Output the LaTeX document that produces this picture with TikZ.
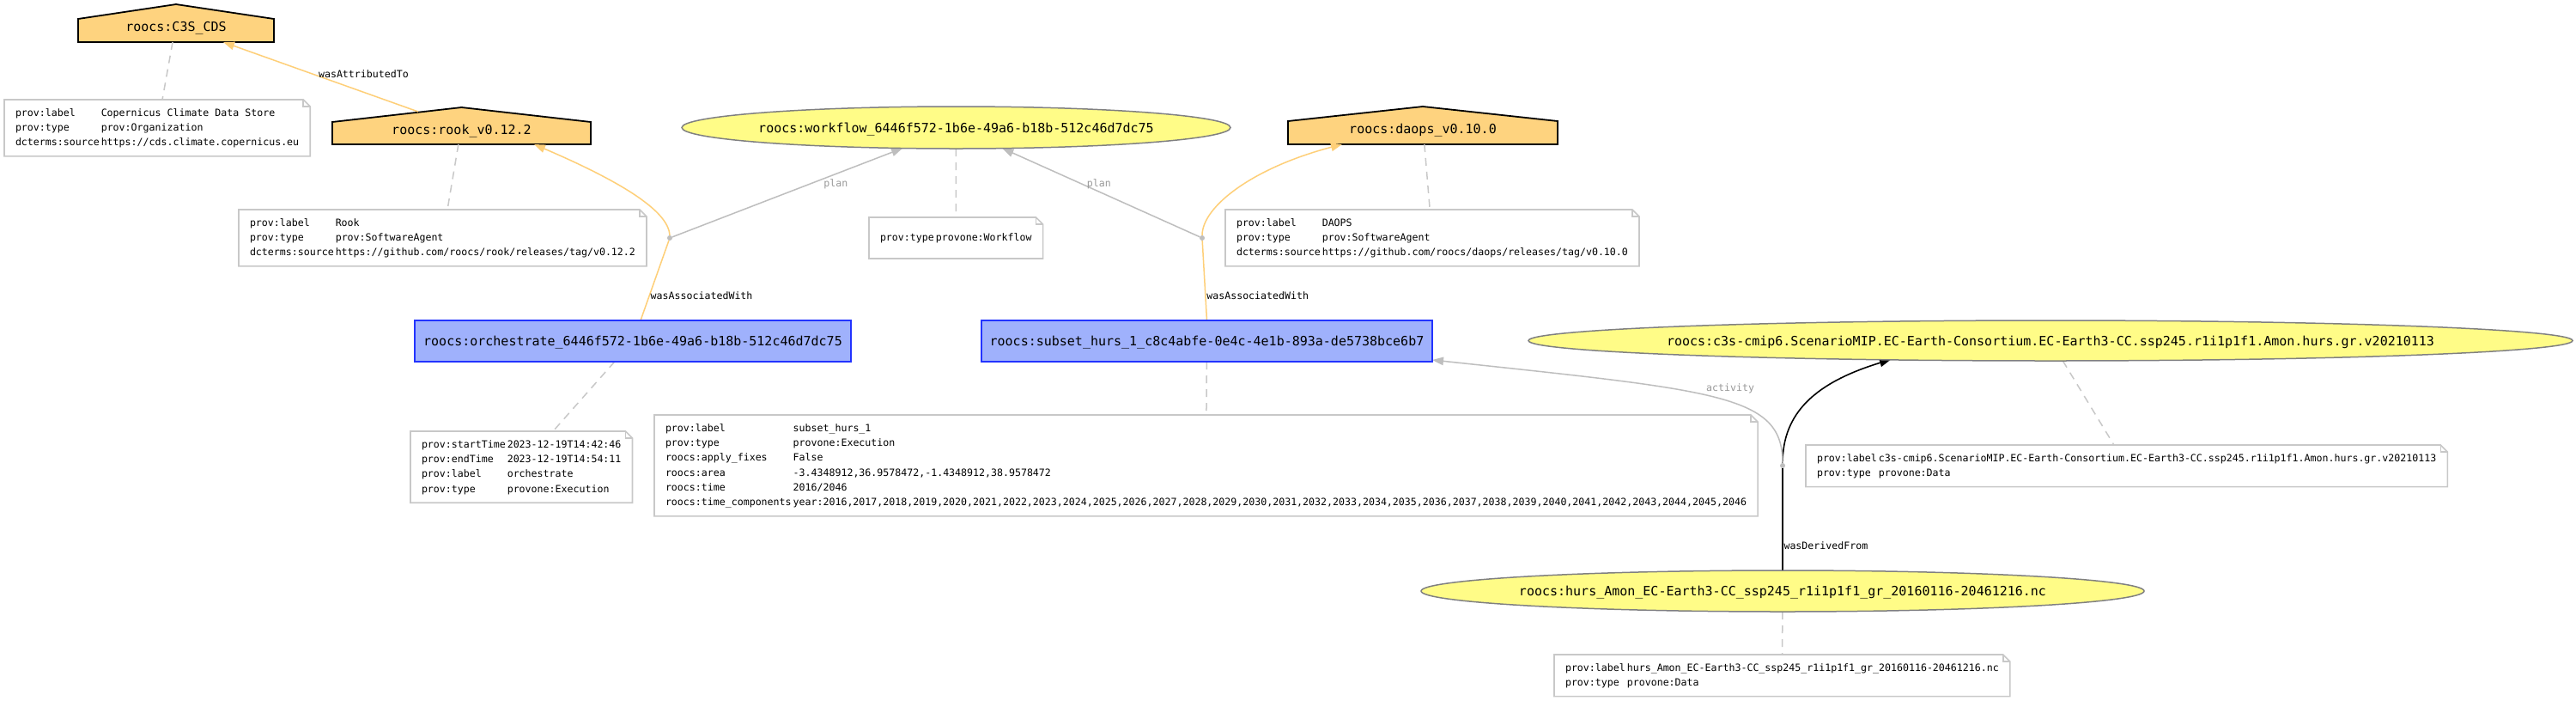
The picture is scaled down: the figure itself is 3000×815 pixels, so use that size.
\documentclass[tikz,border=0pt]{standalone}
\usepackage{fontspec}
\newfontfamily\gvfont{DejaVu Sans Mono}
\usetikzlibrary{arrows.meta,shapes.geometric,backgrounds}
\pgfdeclarelayer{edges}
\pgfsetlayers{background,edges,main}
\definecolor{entfill}{HTML}{FFFC87}
\definecolor{entline}{HTML}{808080}
\definecolor{actfill}{HTML}{9FB1FC}
\definecolor{actline}{HTML}{2233FF}
\definecolor{agfill}{HTML}{FED37F}
\definecolor{agedge}{HTML}{FECF78}
\definecolor{notegray}{HTML}{C8C8C8}
\definecolor{edgegray}{HTML}{BEBEBE}
\definecolor{lblgray}{HTML}{999999}
\newcommand\nodetxt{\gvfont\fontsize{15}{18}\selectfont}
\newcommand\notetxt{\gvfont\fontsize{11.6}{17.3}\selectfont}
\begin{document}
\begin{tikzpicture}[x=1pt,y=-1pt,
  every node/.style={inner sep=0pt, outer sep=0pt},
  entity/.style={ellipse, draw=entline, fill=entfill, line width=1.5pt, font=\nodetxt, text height=11pt, text depth=0pt},
  activity/.style={rectangle, draw=actline, fill=actfill, line width=2pt, font=\nodetxt, text height=11pt, text depth=0pt},
  agent/.style={rectangle, font=\nodetxt, text height=19pt, text depth=0pt},
  agentshape/.style={draw=black, fill=agfill, line width=1.8pt, line join=miter},
  note/.style={rectangle, font=\notetxt, inner xsep=13pt, inner ysep=7pt, minimum height=48pt, anchor=north west},
  noteshape/.style={draw=notegray, fill=white, line width=1.6pt},
  annot/.style={draw=notegray, line width=1.5pt, dash pattern=on 9pt off 7pt},
  arrowend/.style={-{Triangle[length=13pt,width=9.5pt]}},
  assoc/.style={draw=agedge, line width=1.5pt},
  qual/.style={draw=edgegray, line width=1.5pt},
  derived/.style={draw=black, line width=1.6pt},
  lbl/.style={font=\notetxt, inner sep=1.5pt},
  glbl/.style={lbl, text=lblgray},
  bnode/.style={circle, fill=edgegray, minimum size=6pt},
]
\useasboundingbox (0,0) rectangle (3000,815);

% ---------- nodes ----------
\node[agent, minimum width=228pt, minimum height=44pt] (c3scds) at (205,27) {roocs:C3S\_CDS};
\node[agent, minimum width=301pt, minimum height=43pt] (rook) at (537.5,146.5) {roocs:rook\_v0.12.2};
\node[agent, minimum width=314pt, minimum height=44pt] (daops) at (1657,146) {roocs:daops\_v0.10.0};
\node[entity, minimum width=639pt, minimum height=49pt] (wf) at (1113.5,148.5) {\makebox[0pt]{roocs:workflow\_6446f572-1b6e-49a6-b18b-512c46d7dc75}};
\node[activity, minimum width=508pt, minimum height=48pt] (orch) at (737,397) {roocs:orchestrate\_6446f572-1b6e-49a6-b18b-512c46d7dc75};
\node[activity, minimum width=525pt, minimum height=48pt] (subset) at (1405.5,397) {roocs:subset\_hurs\_1\_c8c4abfe-0e4c-4e1b-893a-de5738bce6b7};
\node[entity, minimum width=1216pt, minimum height=47pt] (c3s) at (2388,396.5) {\makebox[0pt]{roocs:c3s-cmip6.ScenarioMIP.EC-Earth-Consortium.EC-Earth3-CC.ssp245.r1i1p1f1.Amon.hurs.gr.v20210113}};
\node[entity, minimum width=842pt, minimum height=48pt] (hurs) at (2076,688) {\makebox[0pt]{roocs:hurs\_Amon\_EC-Earth3-CC\_ssp245\_r1i1p1f1\_gr\_20160116-20461216.nc}};

\node[bnode] (b1) at (780,277) {};
\node[bnode] (b2) at (1400,277) {};
\node[bnode] (b3) at (2076,542) {};

% ---------- notes ----------
\node[note] (nA) at (5,116) {\begin{tabular}{@{}l@{\hspace{2pt}}l@{}}
prov:label & Copernicus Climate Data Store\\
prov:type & prov:Organization\\
dcterms:source & https://cds.climate.copernicus.eu
\end{tabular}};
\node[note] (nB) at (278,244) {\begin{tabular}{@{}l@{\hspace{2pt}}l@{}}
prov:label & Rook\\
prov:type & prov:SoftwareAgent\\
dcterms:source & https://github.com/roocs/rook/releases/tag/v0.12.2
\end{tabular}};
\node[note] (nC) at (1012,253) {\begin{tabular}{@{}l@{\hspace{2pt}}l@{}}
prov:type & provone:Workflow
\end{tabular}};
\node[note] (nD) at (1427,244) {\begin{tabular}{@{}l@{\hspace{2pt}}l@{}}
prov:label & DAOPS\\
prov:type & prov:SoftwareAgent\\
dcterms:source & https://github.com/roocs/daops/releases/tag/v0.10.0
\end{tabular}};
\node[note] (nE) at (478,502) {\begin{tabular}{@{}l@{\hspace{2pt}}l@{}}
prov:startTime & 2023-12-19T14:42:46\\
prov:endTime & 2023-12-19T14:54:11\\
prov:label & orchestrate\\
prov:type & provone:Execution
\end{tabular}};
\node[note] (nF) at (762,483) {\begin{tabular}{@{}l@{\hspace{2pt}}l@{}}
prov:label & subset\_hurs\_1\\
prov:type & provone:Execution\\
roocs:apply\_fixes & False\\
roocs:area & -3.4348912,36.9578472,-1.4348912,38.9578472\\
roocs:time & 2016/2046\\
roocs:time\_components & year:2016,2017,2018,2019,2020,2021,2022,2023,2024,2025,2026,2027,2028,2029,2030,2031,2032,2033,2034,2035,2036,2037,2038,2039,2040,2041,2042,2043,2044,2045,2046
\end{tabular}};
\node[note] (nG) at (2103,518) {\begin{tabular}{@{}l@{\hspace{2pt}}l@{}}
prov:label & c3s-cmip6.ScenarioMIP.EC-Earth-Consortium.EC-Earth3-CC.ssp245.r1i1p1f1.Amon.hurs.gr.v20210113\\
prov:type & provone:Data
\end{tabular}};
\node[note] (nH) at (1810,762) {\begin{tabular}{@{}l@{\hspace{2pt}}l@{}}
prov:label & hurs\_Amon\_EC-Earth3-CC\_ssp245\_r1i1p1f1\_gr\_20160116-20461216.nc\\
prov:type & provone:Data
\end{tabular}};

% ---------- background shapes ----------
\begin{scope}[on background layer]
  \fill[white] (0,0) rectangle (3000,815);
  \foreach \n in {nA,nB,nC,nD,nE,nF,nG,nH} {
    \draw[noteshape] (\n.south west) -- (\n.north west) -- ([xshift=-8pt]\n.north east) -- ([yshift=-8pt]\n.north east) -- (\n.south east) -- cycle;
    \draw[noteshape, fill=none] ([xshift=-8pt]\n.north east) |- ([yshift=-8pt]\n.north east);
  }
  \foreach \n in {c3scds,rook,daops} {
    \draw[agentshape] (\n.south west) -- (\n.south east) -- ([yshift=-17pt]\n.north east) -- (\n.north) -- ([yshift=-17pt]\n.north west) -- cycle;
  }
\end{scope}

% ---------- edges ----------
\begin{pgfonlayer}{edges}
  \draw[annot] (c3scds) -- (nA);
  \draw[annot] (rook) -- (nB);
  \draw[annot] (wf) -- (nC);
  \draw[annot] (daops) -- (nD);
  \draw[annot] (orch) -- (nE);
  \draw[annot] (subset) -- (nF);
  \draw[annot] (c3s) -- (nG);
  \draw[annot] (hurs) -- (nH);

  \draw[assoc, arrowend] ([xshift=-50.5pt,yshift=-5pt]rook.north) -- node[lbl, pos=0.28, yshift=21pt]{wasAttributedTo} ([xshift=55pt]c3scds.south);

  \draw[assoc] ([xshift=9pt]orch.north) -- node[lbl, pos=0.31, anchor=west]{wasAssociatedWith} (b1);
  \draw[assoc, arrowend] (b1) .. controls (779,245) and (720,210) .. ([xshift=84.5pt]rook.south);
  \draw[assoc] (subset.north) -- node[lbl, pos=0.31, anchor=west]{wasAssociatedWith} (b2);
  \draw[assoc, arrowend] (b2) .. controls (1400,240) and (1460,195) .. ([xshift=-94pt]daops.south);

  \draw[qual, arrowend] (b1) -- node[glbl, pos=0.6, anchor=west, xshift=14pt]{plan} (wf);
  \draw[qual, arrowend] (b2) -- node[glbl, pos=0.6, anchor=west, xshift=5pt]{plan} (wf);

  \draw[derived] (hurs.north) -- node[lbl, pos=0.246, anchor=west]{wasDerivedFrom} (b3);
  \draw[derived, arrowend] (b3) .. controls (2076,480) and (2115,445) .. ([xshift=-186pt,yshift=-22pt]c3s.center);
  \draw[qual, arrowend] (b3) .. controls (2076,460) and (2005,455) .. node[glbl, pos=0.45, yshift=15pt]{activity} ([yshift=-22pt]subset.east);
\end{pgfonlayer}
\end{tikzpicture}
\end{document}
